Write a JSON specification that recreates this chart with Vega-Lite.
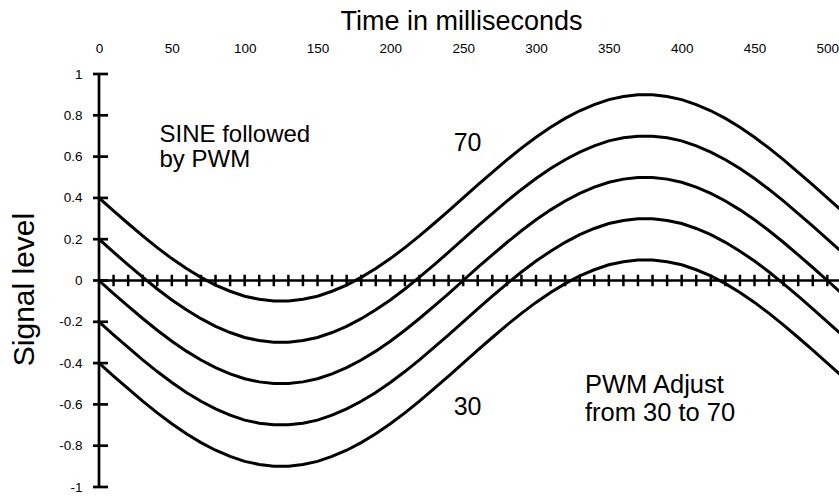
{
"$schema": "https://vega.github.io/schema/vega-lite/v6.json",
"width": 740,
"height": 413,
"autosize": "none",
"padding": {"left": 99, "top": 74, "right": 0, "bottom": 9},
"background": "white",
"config": {"view": {"stroke": null}, "font": "Liberation Sans", "text": {"font": "Liberation Sans", "color": "black"}},
"datasets": {
"one": [{}],
"sig": [
{"s":"a","t":0,"v":0.4},{"s":"a","t":10,"v":0.337},{"s":"a","t":20,"v":0.276},{"s":"a","t":30,"v":0.216},{"s":"a","t":40,"v":0.159},{"s":"a","t":50,"v":0.106},{"s":"a","t":60,"v":0.058},{"s":"a","t":70,"v":0.015},{"s":"a","t":80,"v":-0.022},{"s":"a","t":90,"v":-0.052},{"s":"a","t":100,"v":-0.076},{"s":"a","t":110,"v":-0.091},{"s":"a","t":120,"v":-0.099},{"s":"a","t":130,"v":-0.099},{"s":"a","t":140,"v":-0.091},{"s":"a","t":150,"v":-0.076},{"s":"a","t":160,"v":-0.052},{"s":"a","t":170,"v":-0.022},{"s":"a","t":180,"v":0.015},{"s":"a","t":190,"v":0.058},{"s":"a","t":200,"v":0.106},{"s":"a","t":210,"v":0.159},{"s":"a","t":220,"v":0.216},{"s":"a","t":230,"v":0.276},{"s":"a","t":240,"v":0.337},{"s":"a","t":250,"v":0.4},{"s":"a","t":260,"v":0.463},{"s":"a","t":270,"v":0.524},{"s":"a","t":280,"v":0.584},{"s":"a","t":290,"v":0.641},{"s":"a","t":300,"v":0.694},{"s":"a","t":310,"v":0.742},{"s":"a","t":320,"v":0.785},{"s":"a","t":330,"v":0.822},{"s":"a","t":340,"v":0.852},{"s":"a","t":350,"v":0.876},{"s":"a","t":360,"v":0.891},{"s":"a","t":370,"v":0.899},{"s":"a","t":380,"v":0.899},{"s":"a","t":390,"v":0.891},{"s":"a","t":400,"v":0.876},{"s":"a","t":410,"v":0.852},{"s":"a","t":420,"v":0.822},{"s":"a","t":430,"v":0.785},{"s":"a","t":440,"v":0.742},{"s":"a","t":450,"v":0.694},{"s":"a","t":460,"v":0.641},{"s":"a","t":470,"v":0.584},{"s":"a","t":480,"v":0.524},{"s":"a","t":490,"v":0.463},{"s":"a","t":500,"v":0.4},{"s":"a","t":510,"v":0.337},
{"s":"b","t":0,"v":0.2},{"s":"b","t":10,"v":0.137},{"s":"b","t":20,"v":0.076},{"s":"b","t":30,"v":0.016},{"s":"b","t":40,"v":-0.041},{"s":"b","t":50,"v":-0.094},{"s":"b","t":60,"v":-0.142},{"s":"b","t":70,"v":-0.185},{"s":"b","t":80,"v":-0.222},{"s":"b","t":90,"v":-0.252},{"s":"b","t":100,"v":-0.276},{"s":"b","t":110,"v":-0.291},{"s":"b","t":120,"v":-0.299},{"s":"b","t":130,"v":-0.299},{"s":"b","t":140,"v":-0.291},{"s":"b","t":150,"v":-0.276},{"s":"b","t":160,"v":-0.252},{"s":"b","t":170,"v":-0.222},{"s":"b","t":180,"v":-0.185},{"s":"b","t":190,"v":-0.142},{"s":"b","t":200,"v":-0.094},{"s":"b","t":210,"v":-0.041},{"s":"b","t":220,"v":0.016},{"s":"b","t":230,"v":0.076},{"s":"b","t":240,"v":0.137},{"s":"b","t":250,"v":0.2},{"s":"b","t":260,"v":0.263},{"s":"b","t":270,"v":0.324},{"s":"b","t":280,"v":0.384},{"s":"b","t":290,"v":0.441},{"s":"b","t":300,"v":0.494},{"s":"b","t":310,"v":0.542},{"s":"b","t":320,"v":0.585},{"s":"b","t":330,"v":0.622},{"s":"b","t":340,"v":0.652},{"s":"b","t":350,"v":0.676},{"s":"b","t":360,"v":0.691},{"s":"b","t":370,"v":0.699},{"s":"b","t":380,"v":0.699},{"s":"b","t":390,"v":0.691},{"s":"b","t":400,"v":0.676},{"s":"b","t":410,"v":0.652},{"s":"b","t":420,"v":0.622},{"s":"b","t":430,"v":0.585},{"s":"b","t":440,"v":0.542},{"s":"b","t":450,"v":0.494},{"s":"b","t":460,"v":0.441},{"s":"b","t":470,"v":0.384},{"s":"b","t":480,"v":0.324},{"s":"b","t":490,"v":0.263},{"s":"b","t":500,"v":0.2},{"s":"b","t":510,"v":0.137},
{"s":"c","t":0,"v":0},{"s":"c","t":10,"v":-0.063},{"s":"c","t":20,"v":-0.124},{"s":"c","t":30,"v":-0.184},{"s":"c","t":40,"v":-0.241},{"s":"c","t":50,"v":-0.294},{"s":"c","t":60,"v":-0.342},{"s":"c","t":70,"v":-0.385},{"s":"c","t":80,"v":-0.422},{"s":"c","t":90,"v":-0.452},{"s":"c","t":100,"v":-0.476},{"s":"c","t":110,"v":-0.491},{"s":"c","t":120,"v":-0.499},{"s":"c","t":130,"v":-0.499},{"s":"c","t":140,"v":-0.491},{"s":"c","t":150,"v":-0.476},{"s":"c","t":160,"v":-0.452},{"s":"c","t":170,"v":-0.422},{"s":"c","t":180,"v":-0.385},{"s":"c","t":190,"v":-0.342},{"s":"c","t":200,"v":-0.294},{"s":"c","t":210,"v":-0.241},{"s":"c","t":220,"v":-0.184},{"s":"c","t":230,"v":-0.124},{"s":"c","t":240,"v":-0.063},{"s":"c","t":250,"v":0},{"s":"c","t":260,"v":0.063},{"s":"c","t":270,"v":0.124},{"s":"c","t":280,"v":0.184},{"s":"c","t":290,"v":0.241},{"s":"c","t":300,"v":0.294},{"s":"c","t":310,"v":0.342},{"s":"c","t":320,"v":0.385},{"s":"c","t":330,"v":0.422},{"s":"c","t":340,"v":0.452},{"s":"c","t":350,"v":0.476},{"s":"c","t":360,"v":0.491},{"s":"c","t":370,"v":0.499},{"s":"c","t":380,"v":0.499},{"s":"c","t":390,"v":0.491},{"s":"c","t":400,"v":0.476},{"s":"c","t":410,"v":0.452},{"s":"c","t":420,"v":0.422},{"s":"c","t":430,"v":0.385},{"s":"c","t":440,"v":0.342},{"s":"c","t":450,"v":0.294},{"s":"c","t":460,"v":0.241},{"s":"c","t":470,"v":0.184},{"s":"c","t":480,"v":0.124},{"s":"c","t":490,"v":0.063},{"s":"c","t":500,"v":0},{"s":"c","t":510,"v":-0.063},
{"s":"d","t":0,"v":-0.2},{"s":"d","t":10,"v":-0.263},{"s":"d","t":20,"v":-0.324},{"s":"d","t":30,"v":-0.384},{"s":"d","t":40,"v":-0.441},{"s":"d","t":50,"v":-0.494},{"s":"d","t":60,"v":-0.542},{"s":"d","t":70,"v":-0.585},{"s":"d","t":80,"v":-0.622},{"s":"d","t":90,"v":-0.652},{"s":"d","t":100,"v":-0.676},{"s":"d","t":110,"v":-0.691},{"s":"d","t":120,"v":-0.699},{"s":"d","t":130,"v":-0.699},{"s":"d","t":140,"v":-0.691},{"s":"d","t":150,"v":-0.676},{"s":"d","t":160,"v":-0.652},{"s":"d","t":170,"v":-0.622},{"s":"d","t":180,"v":-0.585},{"s":"d","t":190,"v":-0.542},{"s":"d","t":200,"v":-0.494},{"s":"d","t":210,"v":-0.441},{"s":"d","t":220,"v":-0.384},{"s":"d","t":230,"v":-0.324},{"s":"d","t":240,"v":-0.263},{"s":"d","t":250,"v":-0.2},{"s":"d","t":260,"v":-0.137},{"s":"d","t":270,"v":-0.076},{"s":"d","t":280,"v":-0.016},{"s":"d","t":290,"v":0.041},{"s":"d","t":300,"v":0.094},{"s":"d","t":310,"v":0.142},{"s":"d","t":320,"v":0.185},{"s":"d","t":330,"v":0.222},{"s":"d","t":340,"v":0.252},{"s":"d","t":350,"v":0.276},{"s":"d","t":360,"v":0.291},{"s":"d","t":370,"v":0.299},{"s":"d","t":380,"v":0.299},{"s":"d","t":390,"v":0.291},{"s":"d","t":400,"v":0.276},{"s":"d","t":410,"v":0.252},{"s":"d","t":420,"v":0.222},{"s":"d","t":430,"v":0.185},{"s":"d","t":440,"v":0.142},{"s":"d","t":450,"v":0.094},{"s":"d","t":460,"v":0.041},{"s":"d","t":470,"v":-0.016},{"s":"d","t":480,"v":-0.076},{"s":"d","t":490,"v":-0.137},{"s":"d","t":500,"v":-0.2},{"s":"d","t":510,"v":-0.263},
{"s":"e","t":0,"v":-0.4},{"s":"e","t":10,"v":-0.463},{"s":"e","t":20,"v":-0.524},{"s":"e","t":30,"v":-0.584},{"s":"e","t":40,"v":-0.641},{"s":"e","t":50,"v":-0.694},{"s":"e","t":60,"v":-0.742},{"s":"e","t":70,"v":-0.785},{"s":"e","t":80,"v":-0.822},{"s":"e","t":90,"v":-0.852},{"s":"e","t":100,"v":-0.876},{"s":"e","t":110,"v":-0.891},{"s":"e","t":120,"v":-0.899},{"s":"e","t":130,"v":-0.899},{"s":"e","t":140,"v":-0.891},{"s":"e","t":150,"v":-0.876},{"s":"e","t":160,"v":-0.852},{"s":"e","t":170,"v":-0.822},{"s":"e","t":180,"v":-0.785},{"s":"e","t":190,"v":-0.742},{"s":"e","t":200,"v":-0.694},{"s":"e","t":210,"v":-0.641},{"s":"e","t":220,"v":-0.584},{"s":"e","t":230,"v":-0.524},{"s":"e","t":240,"v":-0.463},{"s":"e","t":250,"v":-0.4},{"s":"e","t":260,"v":-0.337},{"s":"e","t":270,"v":-0.276},{"s":"e","t":280,"v":-0.216},{"s":"e","t":290,"v":-0.159},{"s":"e","t":300,"v":-0.106},{"s":"e","t":310,"v":-0.058},{"s":"e","t":320,"v":-0.015},{"s":"e","t":330,"v":0.022},{"s":"e","t":340,"v":0.052},{"s":"e","t":350,"v":0.076},{"s":"e","t":360,"v":0.091},{"s":"e","t":370,"v":0.099},{"s":"e","t":380,"v":0.099},{"s":"e","t":390,"v":0.091},{"s":"e","t":400,"v":0.076},{"s":"e","t":410,"v":0.052},{"s":"e","t":420,"v":0.022},{"s":"e","t":430,"v":-0.015},{"s":"e","t":440,"v":-0.058},{"s":"e","t":450,"v":-0.106},{"s":"e","t":460,"v":-0.159},{"s":"e","t":470,"v":-0.216},{"s":"e","t":480,"v":-0.276},{"s":"e","t":490,"v":-0.337},{"s":"e","t":500,"v":-0.4},{"s":"e","t":510,"v":-0.463}
],
"xt": [{"t":10},{"t":20},{"t":30},{"t":40},{"t":50},{"t":60},{"t":70},{"t":80},{"t":90},{"t":100},{"t":110},{"t":120},{"t":130},{"t":140},{"t":150},{"t":160},{"t":170},{"t":180},{"t":190},{"t":200},{"t":210},{"t":220},{"t":230},{"t":240},{"t":250},{"t":260},{"t":270},{"t":280},{"t":290},{"t":300},{"t":310},{"t":320},{"t":330},{"t":340},{"t":350},{"t":360},{"t":370},{"t":380},{"t":390},{"t":400},{"t":410},{"t":420},{"t":430},{"t":440},{"t":450},{"t":460},{"t":470},{"t":480},{"t":490},{"t":500}],
"yt": [{"v":-1},{"v":-0.8},{"v":-0.6},{"v":-0.4},{"v":-0.2},{"v":0},{"v":0.2},{"v":0.4},{"v":0.6},{"v":0.8},{"v":1}]
},
"layer": [
{
"data": {"name": "sig"},
"mark": {"type": "line", "color": "black", "strokeWidth": 3, "clip": true},
"encoding": {
"x": {"field": "t", "type": "quantitative",
"scale": {"domain": [0, 508], "nice": false, "zero": false},
"axis": {"orient": "top", "values": [0,50,100,150,200,250,300,350,400,450,500], "ticks": false, "tickSize": 0, "domain": false, "grid": false,
"labelFont": "Liberation Sans", "labelFontSize": 13.5, "labelColor": "black", "labelBaseline": "alphabetic", "labelPadding": 21.7, "labelFlush": false, "labelOverlap": false, "labelAngle": 0,
"title": "Time in milliseconds", "titleFont": "Liberation Sans", "titleFontSize": 27, "titleFontWeight": "normal", "titleColor": "black", "titleBaseline": "alphabetic", "titleAlign": "center", "titleX": 362, "titleY": -44.5}},
"y": {"field": "v", "type": "quantitative",
"scale": {"domain": [-1, 1], "nice": false},
"axis": {"orient": "left", "values": [-1,-0.8,-0.6,-0.4,-0.2,0,0.2,0.4,0.6,0.8,1], "ticks": false, "tickSize": 0, "domain": false, "grid": false,
"labelFont": "Liberation Sans", "labelFontSize": 13.5, "labelColor": "black", "labelPadding": 17, "labelExpr": "'' + datum.value", "labelFlush": false, "labelOverlap": false,
"title": "Signal level", "titleFont": "Liberation Sans", "titleFontSize": 30, "titleFontWeight": "normal", "titleColor": "black", "titleAngle": -90, "titleBaseline": "alphabetic", "titleAlign": "center", "titleX": -66, "titleY": 215}},
"detail": {"field": "s"}
}
},
{
"data": {"name": "one"},
"mark": {"type": "rule", "color": "black", "strokeWidth": 2.7},
"encoding": {"x": {"datum": 0}, "x2": {"datum": 508}, "y": {"datum": 0}}
},
{
"data": {"name": "one"},
"mark": {"type": "rule", "color": "black", "strokeWidth": 2.7},
"encoding": {"x": {"datum": 0}, "y": {"datum": -1}, "y2": {"datum": 1}}
},
{
"data": {"name": "xt"},
"mark": {"type": "tick", "orient": "vertical", "size": 11.5, "thickness": 2.5, "color": "black", "opacity": 1},
"encoding": {"x": {"field": "t", "type": "quantitative"}, "y": {"datum": 0}}
},
{
"data": {"name": "yt"},
"mark": {"type": "tick", "orient": "horizontal", "size": 15, "thickness": 2.7, "color": "black", "opacity": 1, "xOffset": 1.5},
"encoding": {"y": {"field": "v", "type": "quantitative"}, "x": {"datum": 0}}
},
{
"data": {"name": "one"},
"mark": {"type": "text", "align": "left", "baseline": "alphabetic", "fontSize": 24, "lineHeight": 25, "color": "black"},
"encoding": {"x": {"datum": 41.5}, "y": {"datum": 0.672}, "text": {"value": ["SINE followed", "by PWM"]}}
},
{
"data": {"name": "one"},
"mark": {"type": "text", "align": "center", "baseline": "alphabetic", "fontSize": 25, "color": "black"},
"encoding": {"x": {"datum": 253}, "y": {"datum": 0.629}, "text": {"value": "70"}}
},
{
"data": {"name": "one"},
"mark": {"type": "text", "align": "center", "baseline": "alphabetic", "fontSize": 25, "color": "black"},
"encoding": {"x": {"datum": 253}, "y": {"datum": -0.651}, "text": {"value": "30"}}
},
{
"data": {"name": "one"},
"mark": {"type": "text", "align": "left", "baseline": "alphabetic", "fontSize": 25.5, "lineHeight": 28, "color": "black"},
"encoding": {"x": {"datum": 333.6}, "y": {"datum": -0.546}, "text": {"value": ["PWM Adjust", "from 30 to 70"]}}
}
]
}
